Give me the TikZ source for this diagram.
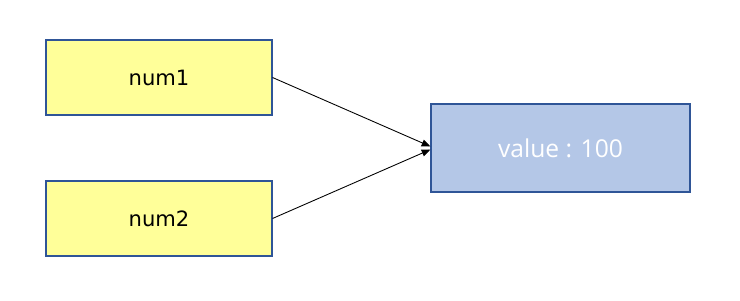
\documentclass[tikz,border=0pt]{standalone}
\usepackage{fontspec}
\setmainfont{Open Sans}
\newfontfamily\numfont{DejaVu Sans}
\usetikzlibrary{arrows.meta}

\definecolor{boxline}{RGB}{47,85,151}
\definecolor{varfill}{RGB}{255,255,153}
\definecolor{valfill}{RGB}{180,199,231}

\tikzset{
    varbox/.style={draw=boxline,line width=0.6pt,fill=varfill,minimum width=4.52cm,minimum height=1.5cm,font=\numfont\fontsize{12}{14}\selectfont},
    valbox/.style={draw=boxline,line width=0.6pt,fill=valfill,minimum width=5.18cm,minimum height=1.76cm,text=white,font=\fontsize{14}{17}\selectfont},
    ref/.style={-{Triangle[length=5pt,width=4pt]},line width=0.5pt}
}

\begin{document}
\begin{tikzpicture}
    \useasboundingbox (0,0) rectangle (14.8,6);
    \node[varbox] (num1) at (3.18,4.45) {num1};
    \node[varbox] (num2) at (3.18,1.63) {num2};
    \node[valbox] (value) at (11.21,3.04) {value : 100};
    \draw[ref] (num1.east) -- ([yshift=0.03cm]value.west);
    \draw[ref] (num2.east) -- ([yshift=-0.03cm]value.west);
\end{tikzpicture}
\end{document}
